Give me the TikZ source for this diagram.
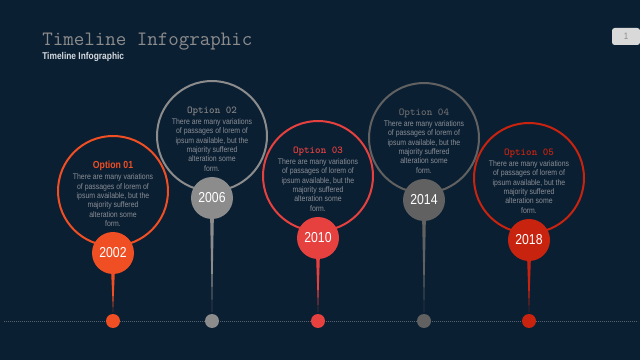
\documentclass[tikz,border=0pt]{standalone}
\usepackage{fontspec}
\newfontfamily\condfont[FakeStretch=0.85]{Liberation Sans}
\usetikzlibrary{positioning}
\definecolor{bgnavy}{HTML}{0B1F33}
\definecolor{optA}{HTML}{F04E23}
\definecolor{optB}{HTML}{8C8C8C}
\definecolor{optC}{HTML}{E6403F}
\definecolor{optD}{HTML}{616161}
\definecolor{optE}{HTML}{C8230F}
\definecolor{bodygray}{HTML}{8A8E94}
\definecolor{titlegray}{HTML}{8C8C8C}
\definecolor{subwhite}{HTML}{D5DAE0}
\definecolor{axisgray}{HTML}{56616D}
\definecolor{pagegray}{HTML}{D9D9D9}
\newcommand{\loremtext}{There are many variations\\of passages of lorem of\\ipsum available, but the\\majority suffered\\alteration some\\form.}
\tikzset{
  ring/.style={circle,draw=#1,line width=1.5pt,minimum size=82.5pt,inner sep=0pt},
  yearnode/.style={circle,fill=#1,minimum size=31.5pt,inner sep=0pt,text=white,font=\condfont\fontsize{10.8}{12}\selectfont},
  dotnode/.style={circle,fill=#1,minimum size=10.5pt,inner sep=0pt},
  infotext/.style={align=center,text=bodygray,inner sep=0pt,font=\condfont\fontsize{6.1}{7.05}\selectfont},
}
\newcommand{\opttitle}[2]{{\color{#1}\ttfamily\fontsize{7.9}{8}\selectfont #2}}
\begin{document}
\begin{tikzpicture}[x=0.75pt,y=-0.75pt,node distance=46.5pt]
\path[use as bounding box,clip] (0,0) rectangle (640,360);
\fill[bgnavy] (0,0) rectangle (640,360);
\node[anchor=base west,inner sep=0pt,text=titlegray,font=\ttfamily\fontsize{15.3}{16}\selectfont] (title) at (42,46) {Timeline Infographic};
\node[anchor=west,inner sep=0pt,text=subwhite,font=\condfont\bfseries\fontsize{7.4}{8}\selectfont] (subtitle) at (42,57) {Timeline Infographic};
\node[fill=pagegray,rounded corners=2pt,minimum width=21pt,minimum height=12.75pt,inner sep=0pt,text=titlegray,font=\condfont\fontsize{7}{8}\selectfont] (page) at (626,36.5) {1};
\coordinate (axisL) at (4,321);
\coordinate (axisR) at (638,321);
\draw[axisgray,line width=0.7pt,dash pattern=on 0.6pt off 0.9pt] (axisL) -- (axisR);
\node[ring=optA] (ringA) at (113,191) {};
\node[ring=optB] (ringB) at (212,136) {};
\node[ring=optC] (ringC) at (318,176) {};
\node[ring=optD] (ringD) at (424,138) {};
\node[ring=optE] (ringE) at (529,178) {};
\node[infotext] (infoA) [below of=ringA,node distance=2.25pt] {{\color{optA}\condfont\bfseries\fontsize{7.7}{8}\selectfont Option 01}\\[1.2pt]\loremtext};
\node[infotext] (infoB) [below of=ringB,node distance=2.25pt] {{\bfseries\opttitle{optB!110}{Option 02}}\\[1.2pt]\loremtext};
\node[infotext] (infoC) [below of=ringC,node distance=2.25pt] {{\bfseries\opttitle{optC}{Option 03}}\\[1.2pt]\loremtext};
\node[infotext] (infoD) [below of=ringD,node distance=2.25pt] {\opttitle{optD!90!white}{Option 04}\\[1.2pt]\loremtext};
\node[infotext] (infoE) [below of=ringE,node distance=2.25pt] {{\bfseries\opttitle{optE}{Option 05}}\\[1.2pt]\loremtext};
\node[dotnode=optA] (dotA) at (113,321) {};
\node[dotnode=optB] (dotB) at (212,321) {};
\node[dotnode=optC] (dotC) at (318,321) {};
\node[dotnode=optD] (dotD) at (424,321) {};
\node[dotnode=optE] (dotE) at (529,321) {};
\node[yearnode=optA] (yearA) [below of=ringA] {2002};
\node[yearnode=optB] (yearB) [below of=ringB] {2006};
\node[yearnode=optC] (yearC) [below of=ringC] {2010};
\node[yearnode=optD] (yearD) [below of=ringD] {2014};
\node[yearnode=optE] (yearE) [below of=ringE] {2018};
\fill[optA] ([xshift=-1.4pt,yshift=2pt]yearA.south) -- ([yshift=1pt]dotA.north) -- ([xshift=1.4pt,yshift=2pt]yearA.south) -- cycle;
\fill[optB] ([xshift=-1.4pt,yshift=2pt]yearB.south) -- ([yshift=1pt]dotB.north) -- ([xshift=1.4pt,yshift=2pt]yearB.south) -- cycle;
\fill[optC] ([xshift=-1.4pt,yshift=2pt]yearC.south) -- ([yshift=1pt]dotC.north) -- ([xshift=1.4pt,yshift=2pt]yearC.south) -- cycle;
\fill[optD] ([xshift=-1.4pt,yshift=2pt]yearD.south) -- ([yshift=1pt]dotD.north) -- ([xshift=1.4pt,yshift=2pt]yearD.south) -- cycle;
\fill[optE] ([xshift=-1.4pt,yshift=2pt]yearE.south) -- ([yshift=1pt]dotE.north) -- ([xshift=1.4pt,yshift=2pt]yearE.south) -- cycle;
\end{tikzpicture}
\end{document}
